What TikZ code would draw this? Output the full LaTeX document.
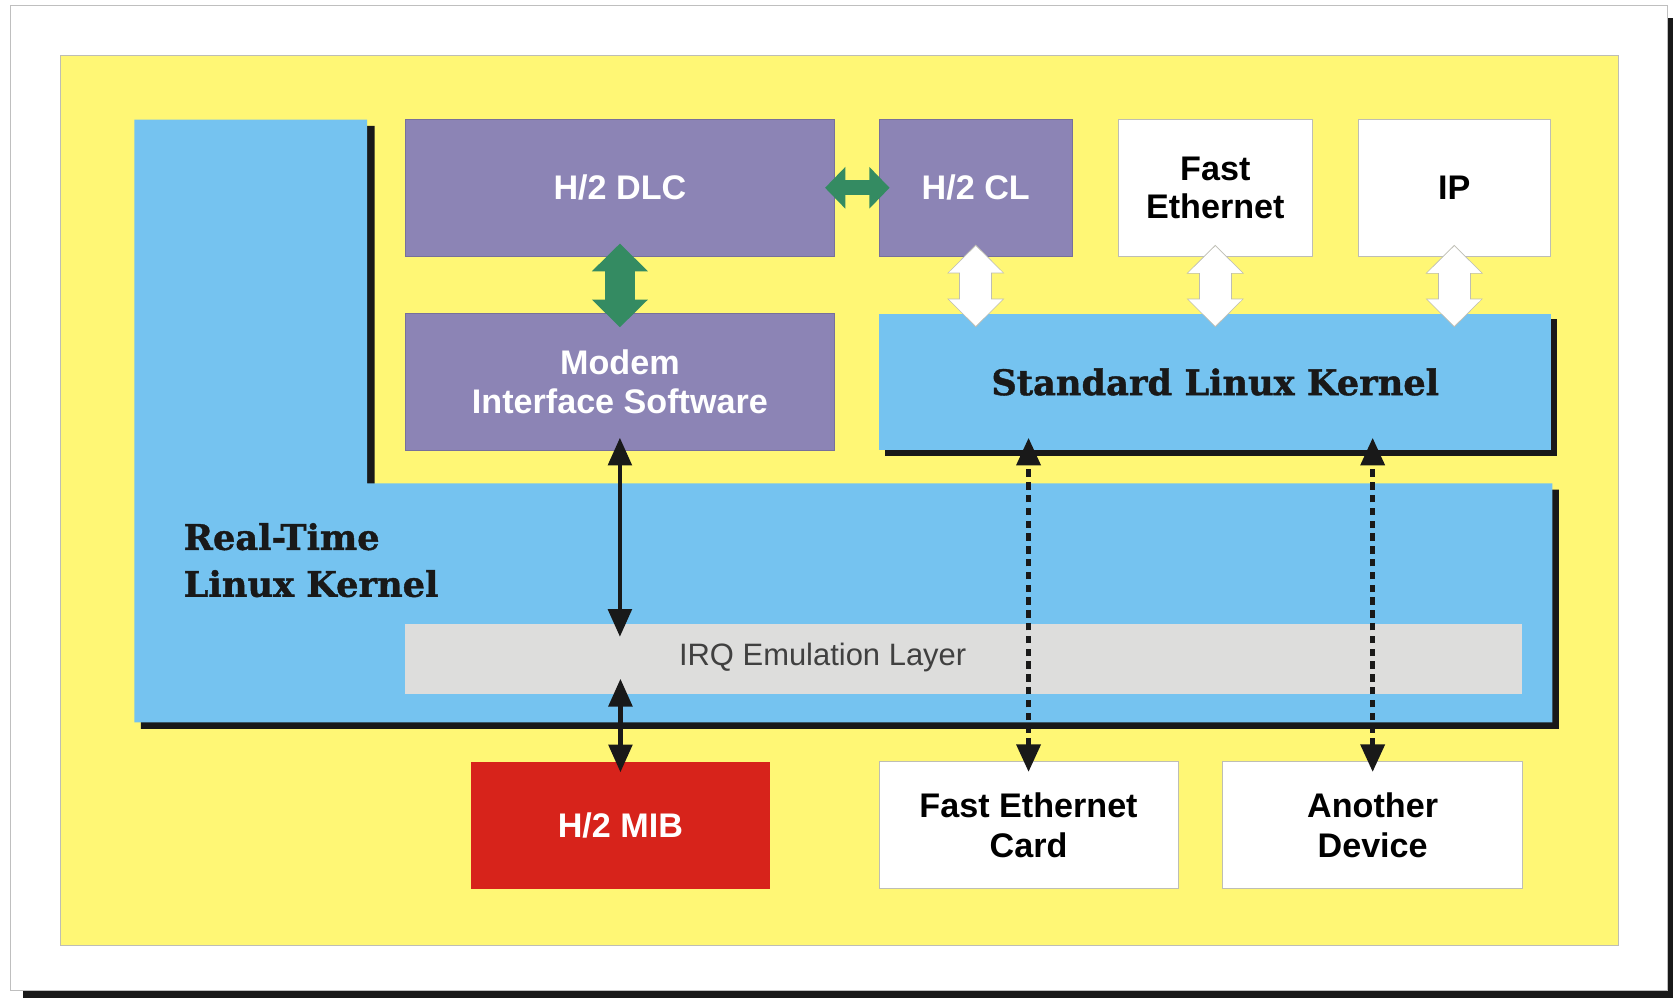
\documentclass[tikz,border=0pt]{standalone}
\usepackage{fontspec}
\setmainfont{Liberation Sans}
\newfontfamily\slabfont[BoldFeatures={FakeBold=1.2}]{DejaVu Serif}
\usetikzlibrary{arrows.meta,calc}
\definecolor{bgyellow}{RGB}{255,247,117}
\definecolor{kblue}{RGB}{117,195,240}
\definecolor{mpurple}{RGB}{140,132,181}
\definecolor{irqgray}{RGB}{221,221,220}
\definecolor{mibred}{RGB}{215,35,27}
\definecolor{agreen}{RGB}{52,139,98}
\definecolor{edgegray}{RGB}{190,190,180}
\begin{document}
\begin{tikzpicture}[x=1pt,y=-1pt,
  box/.style={rectangle,inner sep=0pt,align=center,font=\fontsize{32}{37}\selectfont\bfseries},
  purplebox/.style={box,fill=mpurple,text=white,draw=mpurple!85!black,line width=0.5pt},
  whitebox/.style={box,fill=white,text=black,draw=edgegray,line width=0.8pt},
  slab/.style={font=\slabfont\fontsize{33}{44}\selectfont\bfseries,text=black!90},
  blackarrow/.style={draw=black!90,line width=4pt,{Triangle[length=26pt,width=22pt]}-{Triangle[length=26pt,width=22pt]}},
  dasharrow/.style={blackarrow,line width=5pt,dash pattern=on 7pt off 5pt},
  bigarrowgreen/.style={draw=agreen,line width=28pt,{Triangle[length=26pt,width=51pt]}-{Triangle[length=26pt,width=51pt]}},
  smallarrowgreen/.style={draw=agreen,line width=14pt,{Triangle[length=19pt,width=38pt]}-{Triangle[length=19pt,width=38pt]}},
  whiteoutline/.style={draw=edgegray,line width=31pt,{Triangle[length=27pt,width=52pt]}-{Triangle[length=27pt,width=52pt]}},
  whitearrow/.style={draw=white,line width=29pt,shorten >=1.3pt,shorten <=1.3pt,{Triangle[length=25pt,width=49pt]}-{Triangle[length=25pt,width=49pt]}}
]
\useasboundingbox (0,0) rectangle (1568,935);
% outer frame with shadow
\fill[black!90] (22,17) rectangle (1575,945);
\filldraw[fill=white,draw=black!25,line width=0.8pt] (10,5) rectangle (1563,928);
% yellow background
\filldraw[fill=bgyellow,draw=edgegray,line width=0.8pt] (57,52) rectangle (1517,886);
% Real-Time Linux Kernel L-shape with shadow
\fill[black!90] (132,118) -- (351,118) -- (351,459) -- (1461,459) -- (1461,683) -- (132,683) -- cycle;
\fill[kblue] (126,112) -- (344,112) -- (344,453) -- (1455,453) -- (1455,677) -- (126,677) -- cycle;
\node[slab,anchor=west,align=left,inner sep=0pt] (rtk) at (172,525) {Real-Time\\Linux Kernel};
% IRQ layer
\node[rectangle,fill=irqgray,inner sep=0pt,minimum width=1046pt,minimum height=65pt] (irq) at (903,617.5) {};
\node[font=\fontsize{29}{34}\selectfont,text=black!75,inner sep=0pt] (irqtext) at (771,616) {IRQ Emulation Layer};
% top row
\node[purplebox,minimum width=402pt,minimum height=128pt] (dlc) at (581,176) {H/2 DLC};
\node[purplebox,minimum width=181pt,minimum height=128pt] (cl) at (914.5,176) {H/2 CL};
\node[whitebox,minimum width=182pt,minimum height=128pt] (fe) at (1139,176) {Fast\\[-2pt]Ethernet};
\node[whitebox,minimum width=180pt,minimum height=128pt] (ip) at (1363,176) {IP};
% second row
\node[purplebox,minimum width=402pt,minimum height=128pt] (modem) at (581,358) {Modem\\Interface Software};
\fill[black!90] (829,299) rectangle (1459,427);
\node[rectangle,fill=kblue,inner sep=0pt,minimum width=630pt,minimum height=128pt,slab] (slk) at (1139,358) {Standard Linux Kernel};
% bottom row
\node[box,fill=mibred,text=white,minimum width=281pt,minimum height=119pt] (mib) at (581.5,773.5) {H/2 MIB};
\node[whitebox,minimum width=280pt,minimum height=119pt] (fec) at (964,773.5) {Fast Ethernet\\Card};
\node[whitebox,minimum width=281pt,minimum height=119pt] (dev) at (1286.5,773.5) {Another\\Device};
% green arrows
\draw[smallarrowgreen] ([xshift=-9pt]dlc.east) -- ([xshift=10pt]cl.west);
\draw[bigarrowgreen] ([yshift=12pt]dlc.south) -- ([yshift=-13pt]modem.north);
% white arrows
\foreach \n in {cl,fe,ip}{
  \draw[whiteoutline] ([yshift=11pt]\n.south) -- ([yshift=-13pt]\n.south |- slk.north);
  \draw[whitearrow] ([yshift=11pt]\n.south) -- ([yshift=-13pt]\n.south |- slk.north);
}
% black arrows
\draw[blackarrow] ([yshift=12pt]modem.south) -- ([yshift=-12pt]modem.south |- irq.north);
\draw[blackarrow] ([yshift=14pt]mib.north |- irq.south) -- ([yshift=-10pt]mib.north);
\draw[dasharrow] ([yshift=-10pt]fec.north) -- ([yshift=12pt]fec.north |- slk.south);
\draw[dasharrow] ([yshift=-10pt]dev.north) -- ([yshift=12pt]dev.north |- slk.south);
\end{tikzpicture}
\end{document}
